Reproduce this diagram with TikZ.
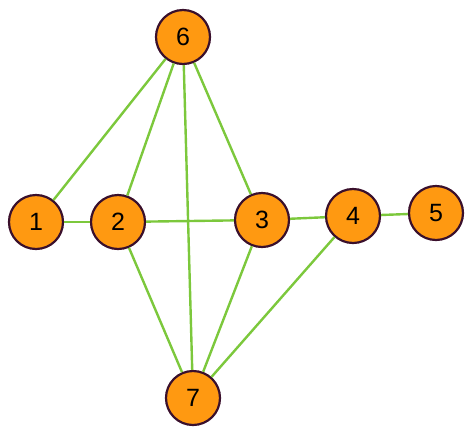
\documentclass[tikz,border=0pt]{standalone}
\usepackage{fontspec}
\setmainfont{Liberation Sans}
\definecolor{vertexfill}{RGB}{255,153,17}
\definecolor{vertexline}{RGB}{58,16,44}
\definecolor{edgegreen}{RGB}{124,200,60}

\begin{document}
\begin{tikzpicture}[x=1pt,y=-1pt,
    vertex/.style={draw=vertexline,line width=2.2pt,circle,fill=vertexfill,
        minimum size=54pt,inner sep=0pt,font=\fontsize{25}{25}\selectfont},
    edge/.style={draw=edgegreen,line width=2.4pt}]
    \useasboundingbox (0,0) rectangle (474,432);

    \node[vertex] (v6) at (183,37) {6};
    \node[vertex] (v1) at (36,222) {1};
    \node[vertex] (v2) at (118,222) {2};
    \node[vertex] (v3) at (262,220) {3};
    \node[vertex] (v4) at (353,216) {4};
    \node[vertex] (v5) at (436,213) {5};
    \node[vertex] (v7) at (193,398) {7};

    \foreach \a/\b in {v6/v1,v6/v2,v6/v7,v6/v3,v1/v2,v2/v3,v3/v4,v4/v5,v2/v7,v3/v7,v4/v7}
        \draw[edge] (\a) -- (\b);
\end{tikzpicture}
\end{document}
